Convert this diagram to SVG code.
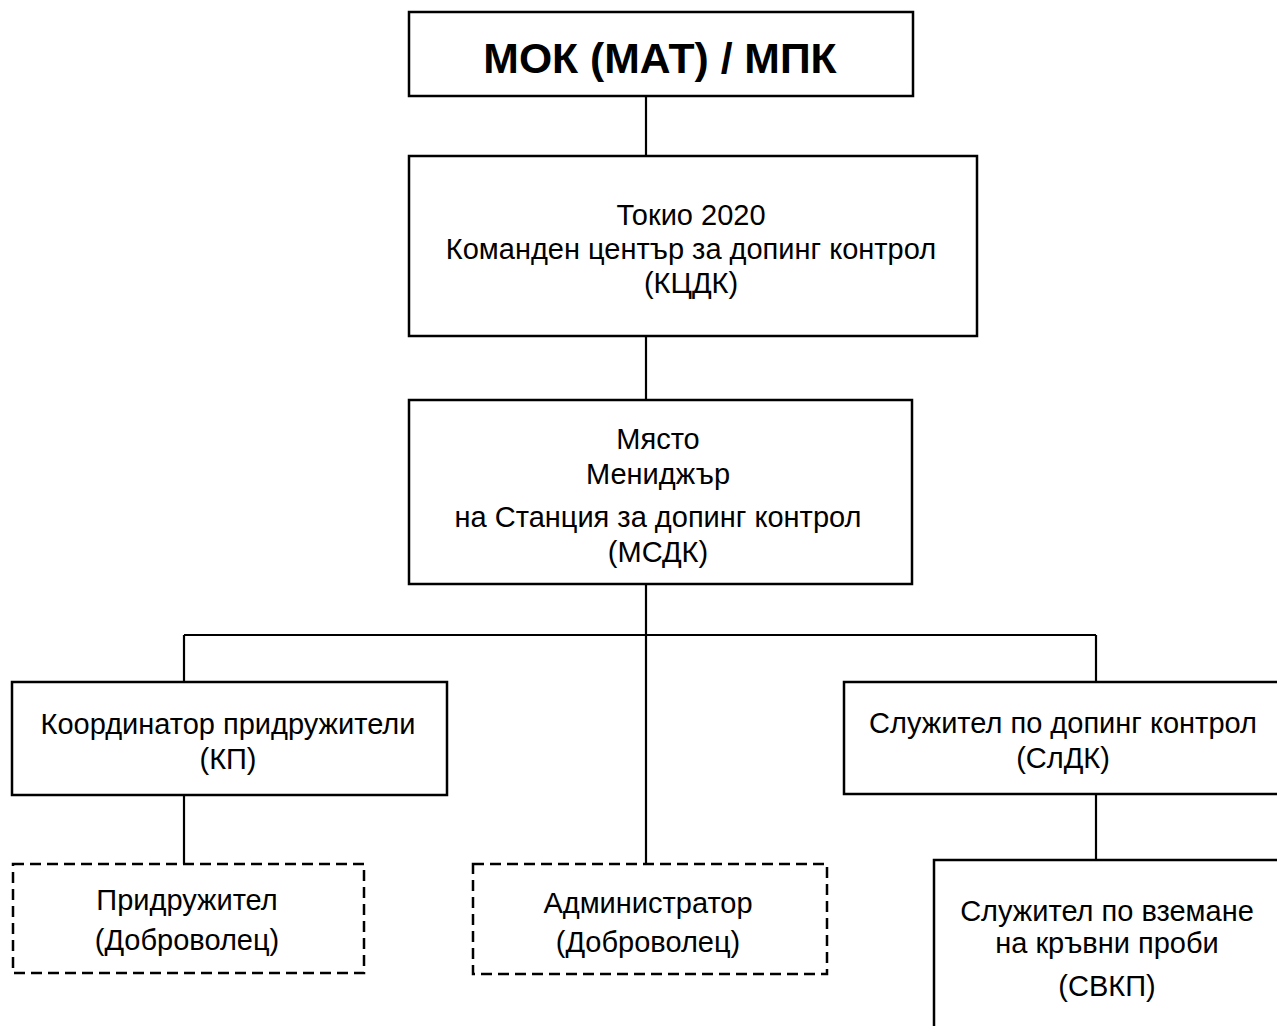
<svg xmlns="http://www.w3.org/2000/svg" width="1277" height="1026" viewBox="0 0 1277 1026">
<style>
.box{fill:#fff;stroke:#000;stroke-width:2.5}
.dash{fill:#fff;stroke:#000;stroke-width:2.5;stroke-dasharray:11 6}
.c{stroke:#000;stroke-width:2.2;fill:none}
text{font-family:"Liberation Sans",Arial,sans-serif;font-size:29px;fill:#000;text-anchor:middle}
.t{font-weight:bold;font-size:42.7px}
</style>
<rect width="1277" height="1026" fill="#fff"/>
<g id="connectors">
<line class="c" x1="646" y1="96" x2="646" y2="156"/>
<line class="c" x1="646" y1="336" x2="646" y2="400"/>
<line class="c" x1="646" y1="584" x2="646" y2="864"/>
<line class="c" x1="184" y1="635" x2="1096" y2="635"/>
<line class="c" x1="184" y1="635" x2="184" y2="682"/>
<line class="c" x1="184" y1="795" x2="184" y2="864"/>
<line class="c" x1="1096" y1="635" x2="1096" y2="682"/>
<line class="c" x1="1096" y1="794" x2="1096" y2="860"/>
</g>
<g id="n-mok">
<rect class="box" x="409" y="12" width="504" height="84"/>
<text class="t" x="660" y="73">МОК (МАТ) / МПК</text>
</g>
<g id="n-kcdk">
<rect class="box" x="409" y="156" width="568" height="180"/>
<text x="691" y="225">Токио 2020</text>
<text x="691" y="259">Команден център за допинг контрол</text>
<text x="691" y="293">(КЦДК)</text>
</g>
<g id="n-msdk">
<rect class="box" x="409" y="400" width="503" height="184"/>
<text x="658" y="449">Място</text>
<text x="658" y="484">Мениджър</text>
<text x="658" y="527">на Станция за допинг контрол</text>
<text x="658" y="562">(МСДК)</text>
</g>
<g id="n-kp">
<rect class="box" x="12" y="682" width="435" height="113"/>
<text x="228" y="734">Координатор придружители</text>
<text x="228" y="769">(КП)</text>
</g>
<g id="n-sldk">
<rect class="box" x="844" y="682" width="450" height="112"/>
<text x="1063" y="733">Служител по допинг контрол</text>
<text x="1063" y="768">(СлДК)</text>
</g>
<g id="n-pridruzhitel">
<rect class="dash" x="13" y="864" width="351" height="109"/>
<text x="187" y="910">Придружител</text>
<text x="187" y="950">(Доброволец)</text>
</g>
<g id="n-admin">
<rect class="dash" x="473" y="864" width="354" height="110"/>
<text x="648" y="913">Администратор</text>
<text x="648" y="952">(Доброволец)</text>
</g>
<g id="n-svkp">
<rect class="box" x="934" y="860" width="360" height="180"/>
<text x="1107" y="921">Служител по вземане</text>
<text x="1107" y="953">на кръвни проби</text>
<text x="1107" y="996">(СВКП)</text>
</g>
</svg>
